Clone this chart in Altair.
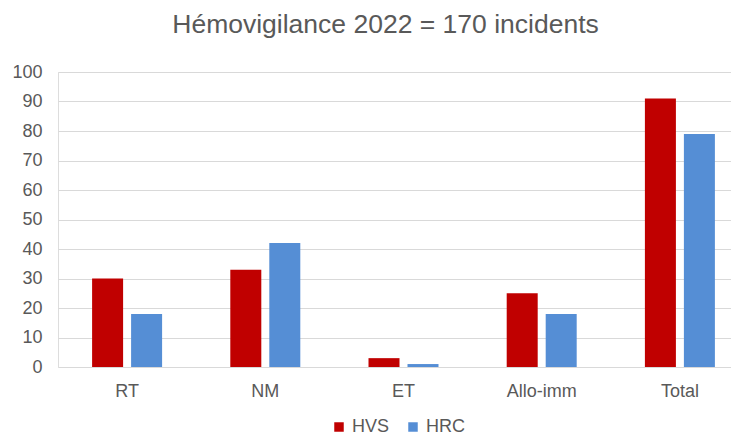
import altair as alt
import pandas as pd

categories = ["RT", "NM", "ET", "Allo-imm", "Total"]
series = ["HVS", "HRC"]
hvs = [30, 33, 3, 25, 91]
hrc = [18, 42, 1, 18, 79]
colors = ["#C00000", "#558ED5"]

rows = []
for c, a, b in zip(categories, hvs, hrc):
    rows.append({"cat": c, "serie": "HVS", "val": a})
    rows.append({"cat": c, "serie": "HRC", "val": b})
df = pd.DataFrame(rows)

FONT = "Liberation Sans"
GREY = "#595959"

chart = alt.Chart(df).mark_bar().encode(
    x=alt.X("cat:N", sort=categories, title=None,
            scale=alt.Scale(range=[0, 691], paddingInner=0.4935, paddingOuter=0.24675),
            axis=alt.Axis(labelAngle=0, domain=False, ticks=False, labelPadding=15,
                          labelFontSize=18, labelColor=GREY, labelFont=FONT)),
    xOffset=alt.XOffset("serie:N", sort=series,
                        scale=alt.Scale(paddingInner=0.205, paddingOuter=0)),
    y=alt.Y("val:Q", title=None,
            scale=alt.Scale(domain=[0, 100], nice=False),
            axis=alt.Axis(values=list(range(0, 101, 10)), domain=False, ticks=False,
                          labelPadding=16, labelFontSize=18, labelColor=GREY,
                          labelFont=FONT, gridColor="#D9D9D9", gridWidth=1.2)),
    color=alt.Color("serie:N", sort=series,
                    scale=alt.Scale(domain=series, range=colors),
                    legend=alt.Legend(title=None, orient="none", direction="horizontal",
                                      legendX=272, legendY=346, symbolType="square",
                                      symbolSize=90, symbolStrokeWidth=0,
                                      labelFontSize=18, labelColor=GREY, labelFont=FONT,
                                      labelOffset=4, columnPadding=14, padding=0)),
).properties(
    width=673,
    height=295,
    autosize=alt.AutoSizeParams(type="none"),
    padding={"left": 50, "top": 64, "right": 0, "bottom": 69},
    title=alt.Title("Hémovigilance 2022 = 170 incidents", fontSize=26.5, font=FONT,
                    fontWeight="normal", color=GREY, anchor="middle", offset=25, dx=-9),
).configure_view(stroke=None).configure(background="white")

chart.save("out.html", embed_options={"renderer": "svg", "actions": False})
